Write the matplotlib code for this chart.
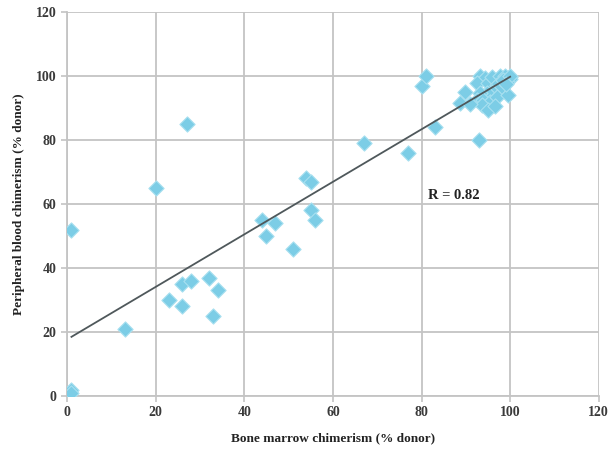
import numpy as np
import matplotlib.pyplot as plt

# bone marrow chimerism (% donor) vs peripheral blood chimerism (% donor)
bm = [1, 1, 1, 13, 20, 27, 23, 26, 26, 28, 32, 34, 33,
      44, 45, 47, 51, 54, 55, 55, 56, 67, 77, 80, 81, 83, 93,
      93.2, 94.3, 92.5, 95, 96, 97.7, 98.8, 100, 100, 97, 98, 96,
      94.7, 93.2, 92.5, 93.9, 95.4, 93.6, 95, 97, 99.5, 89.8, 88.7,
      91, 99.2, 98.4, 100, 96.5, 99]
pb = [52, 2, 1, 21, 65, 85, 30, 35, 28, 36, 37, 33, 25,
      55, 50, 54, 46, 68, 67, 58, 55, 79, 76, 97, 100, 84, 80,
      100, 99.4, 97.8, 98, 99.7, 100, 100, 99.7, 99, 97.2, 96.6, 95,
      94.7, 94.7, 92.5, 92.5, 91.9, 91, 89.4, 93.4, 94, 95, 91.5,
      91.2, 98.1, 98.7, 100, 90.5, 97.5]

# trend line ends as drawn in the original
fit_x = [1, 100]
fit_y = [18.5, 99.8]

fig = plt.figure(figsize=(6.11, 4.49), dpi=100)
ax = fig.add_axes([0.1097, 0.118, 0.8703, 0.855])

ax.scatter(bm, pb, marker='D', s=60, color='#7ccde6', edgecolors='#a8e0f0',
           linewidths=0.8, zorder=3)
ax.plot(fit_x, fit_y, color='#4f585b', linewidth=1.3, zorder=4)

ax.set_xlim(0, 120)
ax.set_ylim(0, 120)
ax.set_xticks(np.arange(0, 121, 20))
ax.set_yticks(np.arange(0, 121, 20))
ax.grid(True, color='#c4c4c4', linewidth=1.3)
ax.set_axisbelow(True)
for s in ['top', 'right']:
    ax.spines[s].set_visible(False)
for s in ['left', 'bottom']:
    ax.spines[s].set_color('#c4c4c4')
    ax.spines[s].set_linewidth(1.3)
ax.tick_params(colors='#c4c4c4', labelcolor='#3a3a3a', length=4, width=1.2)
for lab in ax.get_xticklabels() + ax.get_yticklabels():
    lab.set_fontfamily('Liberation Serif')
    lab.set_fontweight('bold')
    lab.set_fontsize(10)

ax.set_xlabel('Bone marrow chimerism (% donor)', family='Liberation Serif',
              fontweight='bold', fontsize=9.5, color='#222222', labelpad=9)
ax.set_ylabel('Peripheral blood chimerism (% donor)', family='Liberation Serif',
              fontweight='bold', fontsize=9.5, color='#222222', labelpad=8)
ax.text(81.4, 62.8, 'R = 0.82', family='Liberation Serif', fontweight='bold',
        fontsize=10.5, color='#222222', va='center')

fig.savefig('out.png', dpi=100)
